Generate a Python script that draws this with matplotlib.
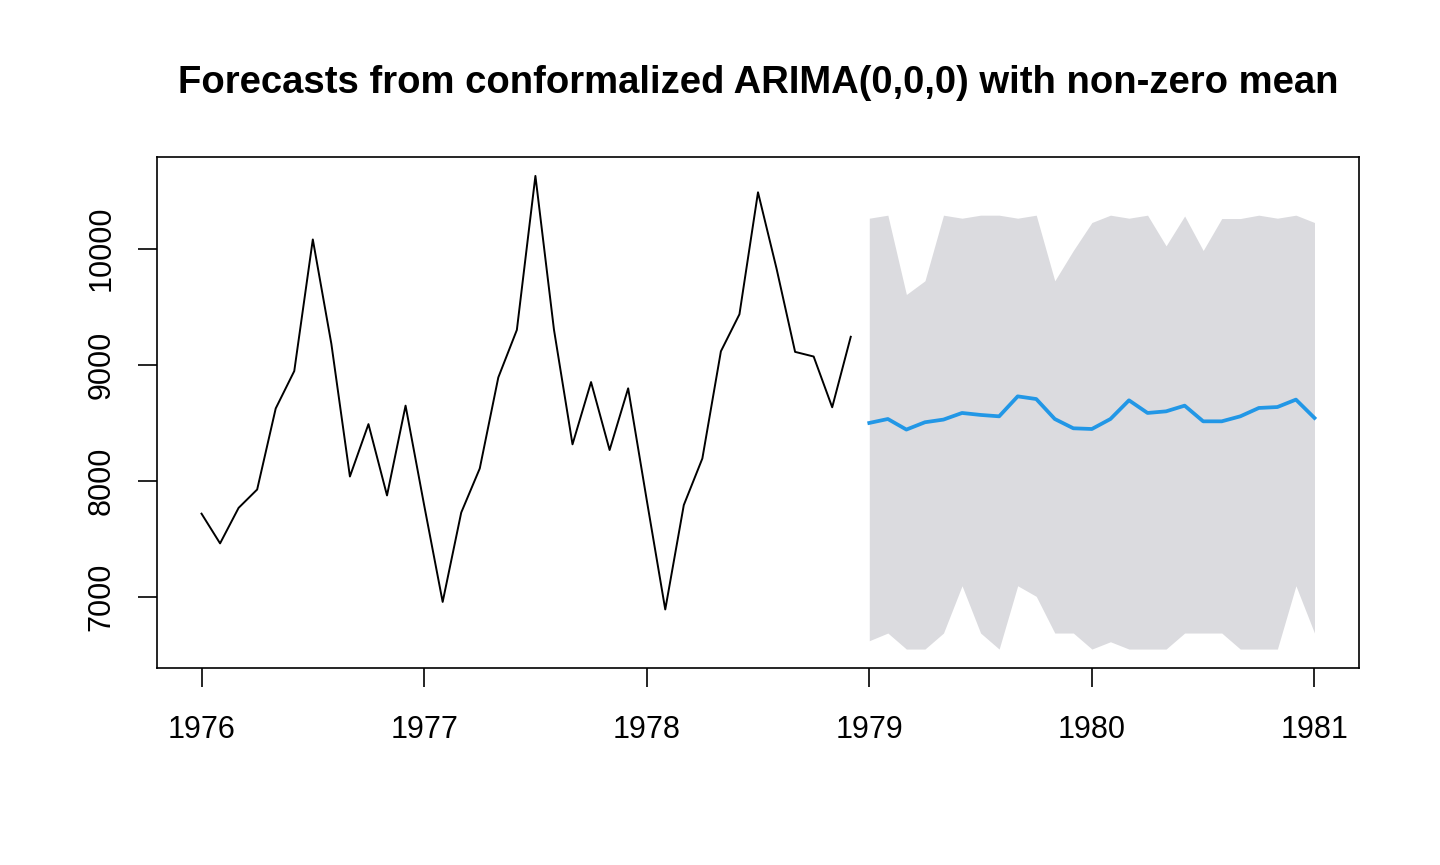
import numpy as np
import matplotlib
matplotlib.use("Agg")
import matplotlib.pyplot as plt

plt.rcParams['font.family'] = ['Liberation Sans', 'DejaVu Sans']

# Historical data (monthly, 1976-1978)
hist_start = 1976.0
hist_values = [7717, 7461, 7767, 7925, 8623, 8945, 10078, 9179, 8037, 8488, 7874, 8647,
               7792, 6957, 7726, 8106, 8890, 9299, 10625, 9302, 8314, 8850, 8265, 8796,
               7836, 6892, 7791, 8192, 9115, 9434, 10484, 9827, 9110, 9070, 8633, 9240]

# Forecasts (monthly, 1979.0 - 1981.0)
fc_start = 1979.0
fc_mean = [8498, 8532, 8441, 8504, 8527, 8584, 8567, 8555, 8727, 8704, 8532, 8452, 8446,
           8532, 8693, 8584, 8598, 8647, 8512, 8512, 8555, 8627, 8635, 8699, 8541]
fc_upper = [10261, 10287, 9604, 9722, 10287, 10261, 10287, 10287, 10261, 10287, 9722, 9983, 10224,
            10287, 10261, 10287, 10023, 10280, 9983, 10258, 10258, 10287, 10261, 10287, 10224]
fc_lower = [6623, 6689, 6551, 6551, 6689, 7096, 6689, 6551, 7096, 7005, 6689, 6689, 6551,
            6614, 6551, 6551, 6551, 6689, 6689, 6689, 6551, 6551, 6551, 7096, 6689]

x_ticks = [1976, 1977, 1978, 1979, 1980, 1981]
y_ticks = [7000, 8000, 9000, 10000]
title = "Forecasts from conformalized ARIMA(0,0,0) with non-zero mean"

t_hist = hist_start + np.arange(len(hist_values)) / 12.0
t_fc = fc_start + np.arange(len(fc_mean)) / 12.0

fig = plt.figure(figsize=(14.4, 8.65), dpi=100)
ax = fig.add_axes([157/1440, (865-668)/865, (1359-157)/1440, (668-157)/865])

ax.fill_between(t_fc, fc_lower, fc_upper, color='#DBDBDF', linewidth=0)
ax.plot(t_hist, hist_values, color='black', linewidth=1.4)
ax.plot(t_fc, fc_mean, color='#2297E6', linewidth=2.7)

allx = np.concatenate([t_hist, t_fc])
ally = np.concatenate([hist_values, fc_lower, fc_upper])
xr = allx.max() - allx.min()
yr = ally.max() - ally.min()
ax.set_xlim(allx.min() - 0.04*xr, allx.max() + 0.04*xr)
ax.set_ylim(ally.min() - 0.04*yr, ally.max() + 0.04*yr)

ax.set_xticks(x_ticks)
ax.set_xticklabels([str(v) for v in x_ticks])
ax.set_yticks(y_ticks)
ax.set_yticklabels([str(v) for v in y_ticks], rotation=90, va='center')

ax.tick_params(axis='both', direction='out', length=14, width=1.2, labelsize=22, colors='black')
ax.tick_params(axis='x', pad=20)
ax.tick_params(axis='y', pad=15)
for s in ax.spines.values():
    s.set_linewidth(1.2)

ax.set_title(title, fontsize=27.5, fontweight='bold', pad=46)

fig.savefig('out.png', dpi=100)
